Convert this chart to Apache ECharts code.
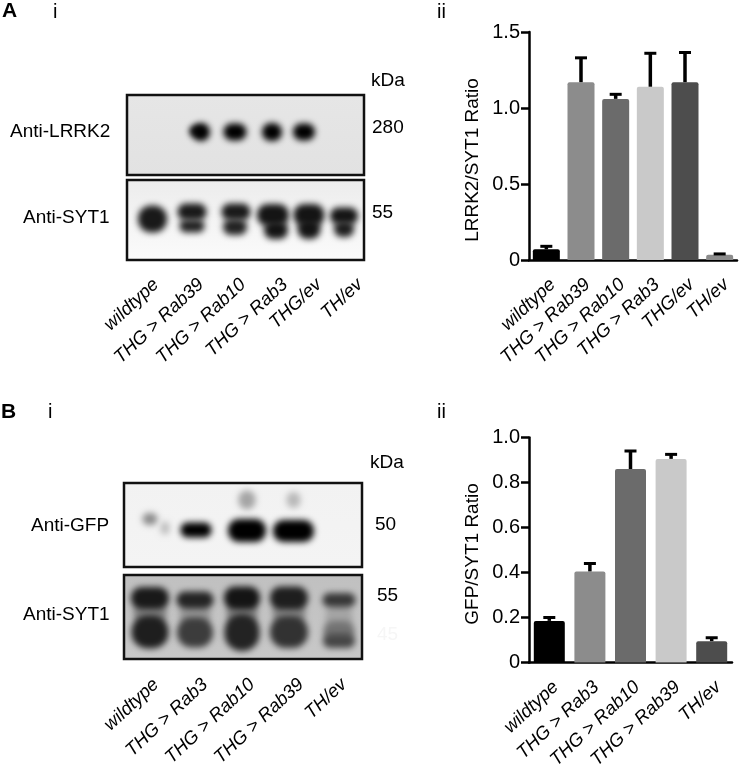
<!DOCTYPE html>
<html>
<head>
<meta charset="utf-8">
<style>
  html, body { margin: 0; padding: 0; background: #fff; }
  #chart { width: 741px; height: 768px; }
</style>
<script src="https://cdn.jsdelivr.net/npm/echarts@6/dist/echarts.min.js"></script>
</head>
<body>
<div id="chart"></div>
<script>
// panel A ii
var catsA = ['wildtype', 'THG > Rab39', 'THG > Rab10', 'THG > Rab3', 'THG/ev', 'TH/ev'];
var ratioA = [0.07, 1.17, 1.06, 1.14, 1.17, 0.035];
var errTopA = [0.09, 1.33, 1.09, 1.36, 1.365, 0.04];
var greysA = ['#000000', '#8c8c8c', '#6b6b6b', '#c9c9c9', '#4d4d4d', '#8c8c8c'];
// panel B ii
var catsB = ['wildtype', 'THG > Rab3', 'THG > Rab10', 'THG > Rab39', 'TH/ev'];
var ratioB = [0.185, 0.405, 0.86, 0.905, 0.095];
var errTopB = [0.2, 0.44, 0.94, 0.925, 0.11];
var greysB = ['#000000', '#8c8c8c', '#6b6b6b', '#c9c9c9', '#4d4d4d'];
var bandsLRRK2 = [
  [69, 36, 10, 6, 10], [74, 37, 15, 15, 0],
  [108, 37, 20, 14, 0], [145, 37, 17, 15, 0], [177, 37, 19, 14, 0]
];
var bandsSYT1a = [
  [25.5, 39, 26, 24, 25],
  [65, 32, 26, 14, 25], [65, 46, 22, 10, 35],
  [109, 32, 26, 14, 25], [108, 47, 21, 13, 35],
  [146, 35, 29, 19, 20], [149, 50, 21, 15, 20],
  [182, 35, 28, 19, 20], [182, 49, 20, 17, 20],
  [217, 36, 25, 14, 20], [217, 49, 17, 13, 30]
];
var bandsGFP = [
  [26, 36, 12, 9, 140], [41, 45, 6, 10, 190],
  [72, 47, 28, 12, 0], [123, 47.5, 35, 20, 0], [169.5, 48, 38, 19, 0],
  [123, 17, 14, 16, 165], [169.5, 17, 11, 13, 185]
];
var bandsSYT1b = [
  [26, 38, 30, 24, 130], [71, 40, 28, 24, 150], [118, 38, 28, 26, 130], [165, 38, 30, 24, 135], [215, 42, 24, 26, 165],
  [26, 23, 35, 19, 25], [26, 57, 34, 30, 30],
  [71, 25, 34, 14, 35], [71, 57.5, 33, 27, 60],
  [118, 23, 33, 20, 20], [118, 57.5, 32, 34, 35],
  [165, 23, 35, 20, 30], [165, 57, 35, 29, 50],
  [215, 25, 30, 11, 55], [215, 56, 28, 17, 115], [215, 66, 29, 11, 70]
];

var fontName = '"Liberation Sans", Arial, sans-serif';
var OFF = 2000;

// only the blurred shadow of the band is seen, the shape itself sits off the page
function bandItem(params, api) {
  var c = api.coord([api.value(0), api.value(1)]);
  var s = api.size([api.value(2), api.value(3)]);
  var w = s[0] + 3;
  var h = s[1] + 3;
  var g = api.value(4);
  return {
    type: 'rect',
    shape: { x: c[0] - w / 2 - OFF, y: c[1] - h / 2, width: w, height: h, r: Math.min(w, h) * 0.48 },
    style: {
      fill: '#000',
      shadowColor: 'rgb(' + g + ',' + g + ',' + g + ')',
      shadowBlur: 6,
      shadowOffsetX: OFF
    }
  };
}

// upper half of the error bar only, with cap
function errItem(params, api) {
  var x = api.value(0);
  var low = api.coord([x, api.value(1)]);
  var high = api.coord([x, api.value(2)]);
  return {
    type: 'group',
    children: [
      { type: 'line', shape: { x1: low[0], y1: low[1], x2: low[0], y2: high[1] }, style: { stroke: '#000', lineWidth: 3.5 } },
      { type: 'line', shape: { x1: low[0] - 6, y1: high[1], x2: low[0] + 6, y2: high[1] }, style: { stroke: '#000', lineWidth: 3 } }
    ]
  };
}

function bandSeries(idx, bands) {
  return {
    type: 'custom', xAxisIndex: idx, yAxisIndex: idx, renderItem: bandItem,
    encode: { x: 0, y: 1 }, data: bands, silent: true, clip: true, z: 3
  };
}

function vGrad(top, bottom) {
  return {
    type: 'linear', x: 0, y: 0, x2: 0, y2: 1,
    colorStops: [{ offset: 0, color: top }, { offset: 1, color: bottom }]
  };
}

function panelGrid(left, top, w, h, bg) {
  return {
    left: left, top: top, width: w, height: h, show: true, z: 1,
    backgroundColor: bg, borderColor: '#111', borderWidth: 2.5
  };
}

function hiddenX(idx, w) { return { type: 'value', gridIndex: idx, min: 0, max: w, show: false }; }
function hiddenY(idx, h) { return { type: 'value', gridIndex: idx, min: 0, max: h, inverse: true, show: false }; }

function barX(idx, cats) {
  return {
    type: 'category', gridIndex: idx, data: cats,
    axisLine: { lineStyle: { color: '#000', width: 2.5 } },
    axisTick: { alignWithLabel: true, length: 6, lineStyle: { color: '#000', width: 2.5 } },
    axisLabel: {
      interval: 0, rotate: 43, margin: 15, color: '#000', fontSize: 18.5, verticalAlign: 'top',
      fontStyle: 'italic', fontFamily: fontName
    }
  };
}

function barY(idx, max, interval, fmt) {
  return {
    type: 'value', gridIndex: idx, min: 0, max: max, interval: interval,
    splitLine: { show: false },
    axisLine: { show: true, lineStyle: { color: '#000', width: 2.5 } },
    axisTick: { show: true, length: 8, lineStyle: { color: '#000', width: 2.5 } },
    axisLabel: { color: '#000', fontSize: 20, margin: 9, fontFamily: fontName, formatter: fmt }
  };
}

function barSeries(idx, vals, greys, width) {
  return {
    type: 'bar', xAxisIndex: idx, yAxisIndex: idx, barWidth: width, silent: true, z: 2,
    data: vals.map(function (v, i) {
      return { value: v, itemStyle: { color: greys[i], borderRadius: [2, 2, 0, 0] } };
    })
  };
}

function errSeries(idx, vals, tops) {
  return {
    type: 'custom', xAxisIndex: idx, yAxisIndex: idx, renderItem: errItem, silent: true, z: 3,
    encode: { x: 0, y: 2 },
    data: vals.map(function (v, i) { return [i, v, tops[i]]; })
  };
}

function txt(s, x, y, size, opts) {
  opts = opts || {};
  return {
    type: 'text', x: x, y: y, rotation: opts.rot || 0, z: 10,
    style: {
      text: s, fill: opts.color || '#000', align: opts.align || 'left', verticalAlign: 'middle',
      font: (opts.style || '') + ' ' + size + 'px ' + fontName
    }
  };
}

function tilted(s, x, y) {
  return txt(s, x, y, 18.5, { rot: 43 * Math.PI / 180, align: 'right', style: 'italic' });
}

var fmtA = function (v) { return v === 0 ? '0' : v.toFixed(1); };
var laneTextA = [156, 201, 243, 285, 319, 360];
var laneTextB = [156, 205, 252, 301, 344];

var texts = [
  txt('A', 2, 11, 21, { style: 'bold' }), txt('i', 53, 12, 20),
  txt('ii', 437, 12, 20),
  txt('B', 1, 412, 21, { style: 'bold' }), txt('i', 48, 412, 20),
  txt('ii', 437, 412, 20),
  txt('kDa', 371, 81, 19), txt('kDa', 370, 463, 19),
  txt('280', 372, 128, 19), txt('55', 372, 213, 19),
  txt('50', 375, 525, 19), txt('55', 377, 596, 19), txt('45', 377, 635, 19, { color: '#f6f6f6' }),
  txt('Anti-LRRK2', 10, 132, 19), txt('Anti-SYT1', 23, 217.5, 19),
  txt('Anti-GFP', 31, 526, 19), txt('Anti-SYT1', 23, 615, 19),
  txt('LRRK2/SYT1 Ratio', 473, 160, 19, { rot: Math.PI / 2, align: 'center' }),
  txt('GFP/SYT1 Ratio', 473, 554, 19, { rot: Math.PI / 2, align: 'center' })
];
catsA.forEach(function (c, i) { texts.push(tilted(c, laneTextA[i], 282)); });
catsB.forEach(function (c, i) { texts.push(tilted(c, laneTextB[i], 682)); });

var chart = echarts.init(document.getElementById('chart'));
chart.setOption({
  animation: false,
  backgroundColor: '#fff',
  grid: [
    panelGrid(127, 95, 237, 80, vGrad('#e6e6e6', '#e2e2e2')),
    panelGrid(127, 180, 237, 80, vGrad('#ececec', '#fbfbfb')),
    panelGrid(124, 483, 238, 84, vGrad('#f2f2f2', '#f4f4f4')),
    panelGrid(124, 575, 238, 84, vGrad('#c0c0c0', '#c8c8c8')),
    // the long tilted labels run off the page in the original, keep the plot size
    { left: 529, top: 32, width: 208, height: 228, outerBoundsMode: 'none' },
    { left: 529, top: 437.5, width: 203, height: 225, outerBoundsMode: 'none' }
  ],
  xAxis: [
    hiddenX(0, 237), hiddenX(1, 237), hiddenX(2, 238), hiddenX(3, 238),
    barX(4, catsA), barX(5, catsB)
  ],
  yAxis: [
    hiddenY(0, 80), hiddenY(1, 80), hiddenY(2, 84), hiddenY(3, 84),
    barY(4, 1.5, 0.5, fmtA),
    barY(5, 1, 0.2, fmtA)
  ],
  series: [
    bandSeries(0, bandsLRRK2), bandSeries(1, bandsSYT1a),
    bandSeries(2, bandsGFP), bandSeries(3, bandsSYT1b),
    errSeries(4, ratioA, errTopA), barSeries(4, ratioA, greysA, 27),
    errSeries(5, ratioB, errTopB), barSeries(5, ratioB, greysB, 31)
  ],
  graphic: texts
});
</script>
</body>
</html>
